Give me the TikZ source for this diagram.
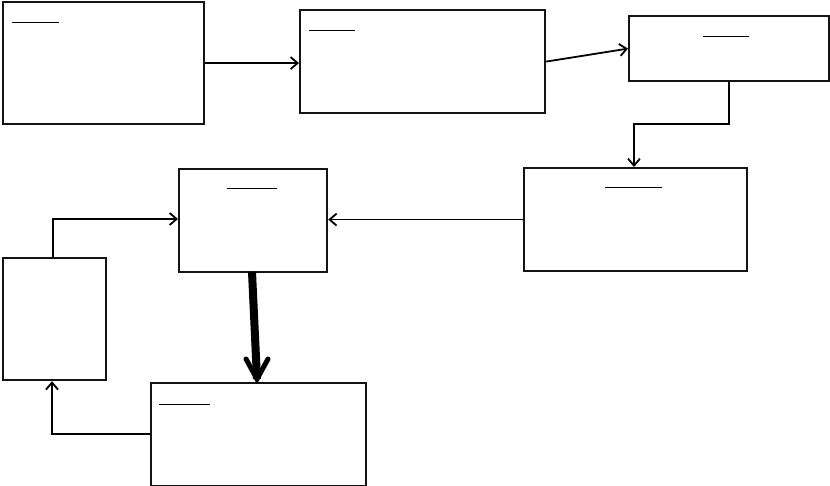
\documentclass[tikz,border=0pt]{standalone}
\usetikzlibrary{arrows.meta}
\begin{document}
\begin{tikzpicture}[x=1pt,y=-1pt,
  box/.style={draw=black!92,line width=2.2pt,inner sep=0pt,anchor=north west},
  uline/.style={line width=1pt},
  conn/.style={line width=1.8pt,-{Straight Barb[length=7pt,width=12pt]}},
  link/.style={line width=1.8pt}]
\useasboundingbox (0,0) rectangle (830,486);
\node[box,minimum width=201pt,minimum height=122pt] (A) at (2,1) {};
\node[box,minimum width=245pt,minimum height=103pt] (B) at (299,9) {};
\node[box,minimum width=200pt,minimum height=65pt] (C) at (628,15) {};
\node[box,minimum width=223pt,minimum height=103pt] (D) at (523,167) {};
\node[box,minimum width=148pt,minimum height=103pt] (E) at (178,168) {};
\node[box,minimum width=103pt,minimum height=122pt] (F) at (1.5,257) {};
\node[box,minimum width=215pt,minimum height=103pt] (G) at (150,382) {};
% underlines
\draw[uline] (12,23) -- (59,23);
\draw[uline] (309,31) -- (355,31);
\draw[uline] (703,37) -- (749,37);
\draw[uline] (605,188) -- (662,188);
\draw[uline] (227,189) -- (277,189);
\draw[uline] (159,404) -- (210,404);
% connectors
\draw[conn] (A.east) -- (B.west |- A.east);
\draw[conn] (B.east) -- (C.west);
\coordinate (c1) at (729,124);
\coordinate (c2) at (634,124);
\draw[conn] (C.south -| c1) -- (c1) -- (c2) -- (c2 |- D.north);
\draw[conn] (D.west) -- (E.east |- D.west);
\coordinate (f1) at (53,219);
\draw[conn] (F.north -| f1) -- (f1) -- (f1 -| E.west);
\coordinate (g1) at (52,434);
\draw[conn] (G.west |- g1) -- (g1) -- (g1 |- F.south);
% thick arrow
\coordinate (t1) at (252,272);
\coordinate (t2) at (257,379);
\draw[line width=8pt] (t1) -- (t2);
\coordinate (h1) at (246,359);
\coordinate (h2) at (268,359);
\draw[line width=5pt,line cap=round,line join=miter] (h1) -- (t2) -- (h2);
\end{tikzpicture}
\end{document}
